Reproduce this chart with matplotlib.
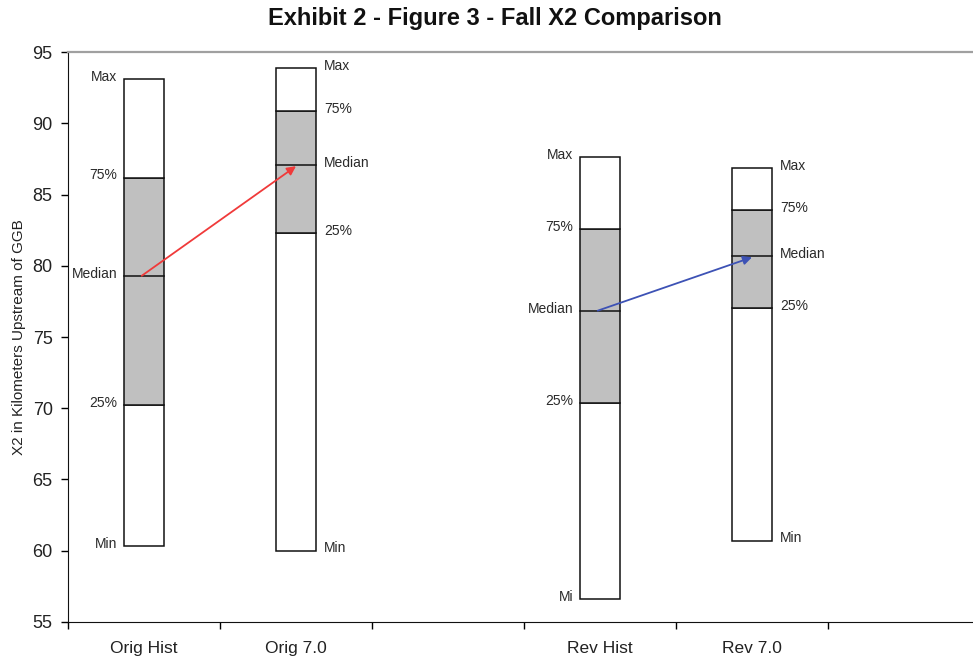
import matplotlib
matplotlib.use("Agg")
from matplotlib import pyplot as plt

# Chart data
categories = ['Orig Hist', 'Orig 7.0', '', 'Rev Hist', 'Rev 7.0', '']
box_names = ['Orig Hist', 'Orig 7.0', 'Rev Hist', 'Rev 7.0']
mins = [60.3, 60.0, 56.6, 60.7]
q25 = [70.25, 82.3, 70.35, 77.05]
medians = [79.3, 87.1, 76.85, 80.7]
q75 = [86.2, 90.9, 82.6, 83.9]
maxs = [93.15, 93.9, 87.65, 86.9]
label_side = ['left', 'right', 'left', 'right']
stat_labels = [
    ['Min', '25%', 'Median', '75%', 'Max'],
    ['Min', '25%', 'Median', '75%', 'Max'],
    ['Mi', '25%', 'Median', '75%', 'Max'],
    ['Min', '25%', 'Median', '75%', 'Max'],
]
arrows = [('Orig Hist', 'Orig 7.0', '#f03a3a'), ('Rev Hist', 'Rev 7.0', '#3d52b5')]

plt.rcParams['font.family'] = ['Liberation Sans', 'DejaVu Sans']

fig = plt.figure(figsize=(9.73, 6.58), dpi=100)
ax = fig.add_axes([68 / 973, 1 - 621.7 / 658, 912 / 973, (621.7 - 52.3) / 658])

width = 0.26
pos = {name: categories.index(name) + 0.5 for name in box_names}

for i, name in enumerate(box_names):
    x = pos[name]
    ax.bar(x, q25[i] - mins[i], bottom=mins[i], width=width,
           color='white', edgecolor='#111111', lw=1.1, zorder=2)
    ax.bar(x, q75[i] - q25[i], bottom=q25[i], width=width,
           color='#c0c0c0', edgecolor='#111111', lw=1.1, zorder=2)
    ax.bar(x, maxs[i] - q75[i], bottom=q75[i], width=width,
           color='white', edgecolor='#111111', lw=1.1, zorder=2)
    ax.plot([x - width / 2, x + width / 2], [medians[i], medians[i]],
            color='#111111', lw=1.1, zorder=3)

    vals = [mins[i], q25[i], medians[i], q75[i], maxs[i]]
    if label_side[i] == 'left':
        tx, dx, ha = x - width / 2, -5, 'right'
    else:
        tx, dx, ha = x + width / 2, 6, 'left'
    for v, lab in zip(vals, stat_labels[i]):
        ax.annotate(lab, (tx, v), xytext=(dx, 1.5), textcoords='offset points',
                    ha=ha, va='center', fontsize=10, color='#2a2a2a')

for a, b, col in arrows:
    ia, ib = box_names.index(a), box_names.index(b)
    ax.annotate('', xy=(pos[b], medians[ib] - 0.1), xytext=(pos[a] - 0.015, medians[ia]),
                arrowprops=dict(arrowstyle='-|>', color=col, lw=1.3,
                                mutation_scale=13, shrinkA=0, shrinkB=0),
                zorder=4)

ax.set_xlim(0, len(categories))
ax.set_ylim(55, 95)
ax.set_xticks(range(len(categories) + 1))
ax.set_xticklabels([])
ax.set_xticks([i + 0.5 for i in range(len(categories))], minor=True)
ax.set_xticklabels(categories, minor=True, fontsize=12.5, color='#222222')
ax.tick_params(axis='x', which='minor', length=0, pad=14)
ax.tick_params(axis='x', which='major', length=5, direction='out', width=1)
ax.set_yticks(range(55, 96, 5))
ax.tick_params(axis='y', length=5, width=1, pad=6, labelsize=13, labelcolor='#222222')

ax.spines['top'].set_color('#a0a0a0')
ax.spines['top'].set_linewidth(1.6)
ax.spines['right'].set_visible(False)
ax.spines['left'].set_color('#111111')
ax.spines['bottom'].set_color('#111111')

ax.set_ylabel('X2 in Kilometers Upstream of GGB', fontsize=11, color='#222222')
ax.yaxis.set_label_coords(-0.046, 0.5)

fig.text(495 / 973, 1 - 19 / 658, 'Exhibit 2 - Figure 3 - Fall X2 Comparison',
         ha='center', va='center', fontsize=17, fontweight='bold', color='#111111')

fig.savefig('out.png', dpi=100)
